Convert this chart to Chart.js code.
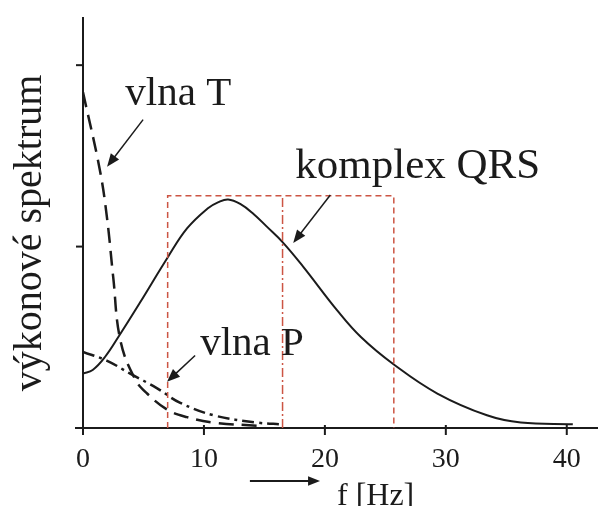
<!DOCTYPE html>
<html>
<head>
<meta charset="utf-8">
<script src="https://cdn.jsdelivr.net/npm/chart.js@4"></script>
<style>
  html, body { margin: 0; padding: 0; background: #fff; }
  #wrap { width: 602px; height: 506px; }
</style>
</head>
<body>
<div id="wrap"><canvas id="spectrumChart" width="602" height="506"></canvas></div>
<script>
// ===== Data =====
const qrsFreq = [0, 0.8, 1.8, 3.0, 4.7, 7.0, 8.6, 10.3, 11.2, 12.0, 13.0, 14.1, 15.2, 16.5, 18.2, 21.0, 23.0, 25.7, 29.3, 33.4, 36.2, 40.5];
const qrsPower = [0.30, 0.32, 0.39, 0.51, 0.69, 0.94, 1.10, 1.21, 1.245, 1.26, 1.235, 1.18, 1.11, 1.025, 0.89, 0.65, 0.50, 0.35, 0.19, 0.07, 0.03, 0.02];

const tFreq = [0, 1.4, 2.0, 2.5, 3.1, 4.3, 5.3, 7.0, 8.6, 10.8, 15];
const tPower = [1.85, 1.42, 1.15, 0.83, 0.48, 0.27, 0.19, 0.10, 0.06, 0.03, 0.01];

const pFreq = [0, 2.0, 3.9, 6.1, 8.0, 10.8, 14.4, 16.5];
const pPower = [0.42, 0.37, 0.30, 0.22, 0.14, 0.07, 0.03, 0.02];

// červený obdélník (pásmo QRS) a dělicí čára
const boxFreq = [7.0, 7.0, 25.7, 25.7];
const boxPower = [0, 1.28, 1.28, 0];
const splitFreq = [16.5, 16.5];
const splitPower = [0, 1.28];

const xTicks = [0, 10, 20, 30, 40];
const yTicks = [1, 2];

const SERIF = "'Liberation Serif', 'Times New Roman', serif";
const INK = "#1b1b1b";
const RED = "#cc5544";

const zip = (xs, ys) => xs.map((x, i) => ({ x: x, y: ys[i] }));

// popisky se šipkami (v datových souřadnicích)
const notes = [
  { text: "vlna T", size: 41, at: [3.5, 1.78], from: [4.97, 1.70], to: [1.99, 1.44] },
  { text: "komplex QRS", size: 43, at: [17.55, 1.377], from: [20.45, 1.284], to: [17.38, 1.02] },
  { text: "vlna P", size: 41, at: [9.69, 0.40], from: [9.27, 0.40], to: [6.95, 0.255] },
];

function arrow(ctx, x1, y1, x2, y2, head) {
  const a = Math.atan2(y2 - y1, x2 - x1);
  ctx.beginPath();
  ctx.moveTo(x1, y1);
  ctx.lineTo(x2 - Math.cos(a) * head * 0.8, y2 - Math.sin(a) * head * 0.8);
  ctx.stroke();
  ctx.beginPath();
  ctx.moveTo(x2, y2);
  ctx.lineTo(x2 - head * Math.cos(a) + head * 0.4 * Math.sin(a), y2 - head * Math.sin(a) - head * 0.4 * Math.cos(a));
  ctx.lineTo(x2 - head * Math.cos(a) - head * 0.4 * Math.sin(a), y2 - head * Math.sin(a) + head * 0.4 * Math.cos(a));
  ctx.closePath();
  ctx.fill();
}

const decorations = {
  id: "decorations",
  afterDraw(chart) {
    const { ctx, scales } = chart;
    const sx = scales.x, sy = scales.y;
    const x0 = sx.getPixelForValue(0), y0 = sy.getPixelForValue(0);
    ctx.save();
    ctx.strokeStyle = INK;
    ctx.fillStyle = INK;
    ctx.lineWidth = 2;
    // tick marks across the axes
    xTicks.forEach((v) => {
      const px = sx.getPixelForValue(v);
      ctx.beginPath(); ctx.moveTo(px, y0 - 3); ctx.lineTo(px, y0 + 7); ctx.stroke();
    });
    yTicks.forEach((v) => {
      const py = sy.getPixelForValue(v);
      ctx.beginPath(); ctx.moveTo(x0 - 7, py); ctx.lineTo(x0 + 1, py); ctx.stroke();
    });
    ctx.beginPath(); ctx.moveTo(x0 - 8, y0); ctx.lineTo(x0, y0); ctx.stroke();

    // y-axis title
    ctx.save();
    ctx.translate(30, 233);
    ctx.rotate(-Math.PI / 2);
    ctx.font = "40px " + SERIF;
    ctx.textAlign = "center";
    ctx.textBaseline = "middle";
    ctx.fillText("výkonové spektrum", 0, 0);
    ctx.restore();

    // x-axis title with arrow
    arrow(ctx, sx.getPixelForValue(13.8), 481, sx.getPixelForValue(19.6), 481, 12);
    ctx.font = "32px " + SERIF;
    ctx.textAlign = "left";
    ctx.textBaseline = "alphabetic";
    ctx.fillText("f [Hz]", sx.getPixelForValue(21.0), 505);

    // annotations
    ctx.lineWidth = 1.5;
    notes.forEach((n) => {
      ctx.font = n.size + "px " + SERIF;
      ctx.fillText(n.text, sx.getPixelForValue(n.at[0]), sy.getPixelForValue(n.at[1]));
      arrow(ctx, sx.getPixelForValue(n.from[0]), sy.getPixelForValue(n.from[1]),
        sx.getPixelForValue(n.to[0]), sy.getPixelForValue(n.to[1]), 13);
    });
    ctx.restore();
  },
};

const ctxSpectrum = document.getElementById("spectrumChart");
new Chart(ctxSpectrum, {
  type: "line",
  data: {
    datasets: [
      {
        label: "pásmo",
        data: zip(boxFreq, boxPower),
        borderColor: RED,
        borderWidth: 1.5,
        borderDash: [6, 4],
        pointRadius: 0,
        tension: 0,
      },
      {
        label: "dělení",
        data: zip(splitFreq, splitPower),
        borderColor: RED,
        borderWidth: 1.5,
        borderDash: [9, 3, 2, 3],
        pointRadius: 0,
        tension: 0,
      },
      {
        label: "komplex QRS",
        data: zip(qrsFreq, qrsPower),
        borderColor: INK,
        borderWidth: 2,
        pointRadius: 0,
        tension: 0.4,
      },
      {
        label: "vlna T",
        data: zip(tFreq, tPower),
        borderColor: INK,
        borderWidth: 2.5,
        borderDash: [15, 8],
        pointRadius: 0,
        tension: 0.4,
      },
      {
        label: "vlna P",
        data: zip(pFreq, pPower),
        borderColor: INK,
        borderWidth: 2.5,
        borderDash: [12, 5, 3, 5],
        pointRadius: 0,
        tension: 0.4,
      },
    ],
  },
  options: {
    responsive: false,
    animation: false,
    layout: { padding: { top: 18, right: 5, bottom: 0, left: 0 } },
    plugins: { legend: { display: false }, tooltip: { enabled: false } },
    scales: {
      x: {
        type: "linear",
        min: 0,
        max: 42.5,
        grid: { display: false },
        border: { display: true, color: INK, width: 2 },
        ticks: {
          stepSize: 10,
          includeBounds: false,
          color: INK,
          padding: 7,
          font: { family: SERIF, size: 28 },
        },
        afterFit: (scale) => { scale.height = 78; },
      },
      y: {
        type: "linear",
        min: 0,
        max: 2.26,
        grid: { display: false },
        border: { display: true, color: INK, width: 2 },
        ticks: { display: false, stepSize: 1 },
        afterFit: (scale) => { scale.width = 83; },
      },
    },
  },
  plugins: [decorations],
});
</script>
</body>
</html>
